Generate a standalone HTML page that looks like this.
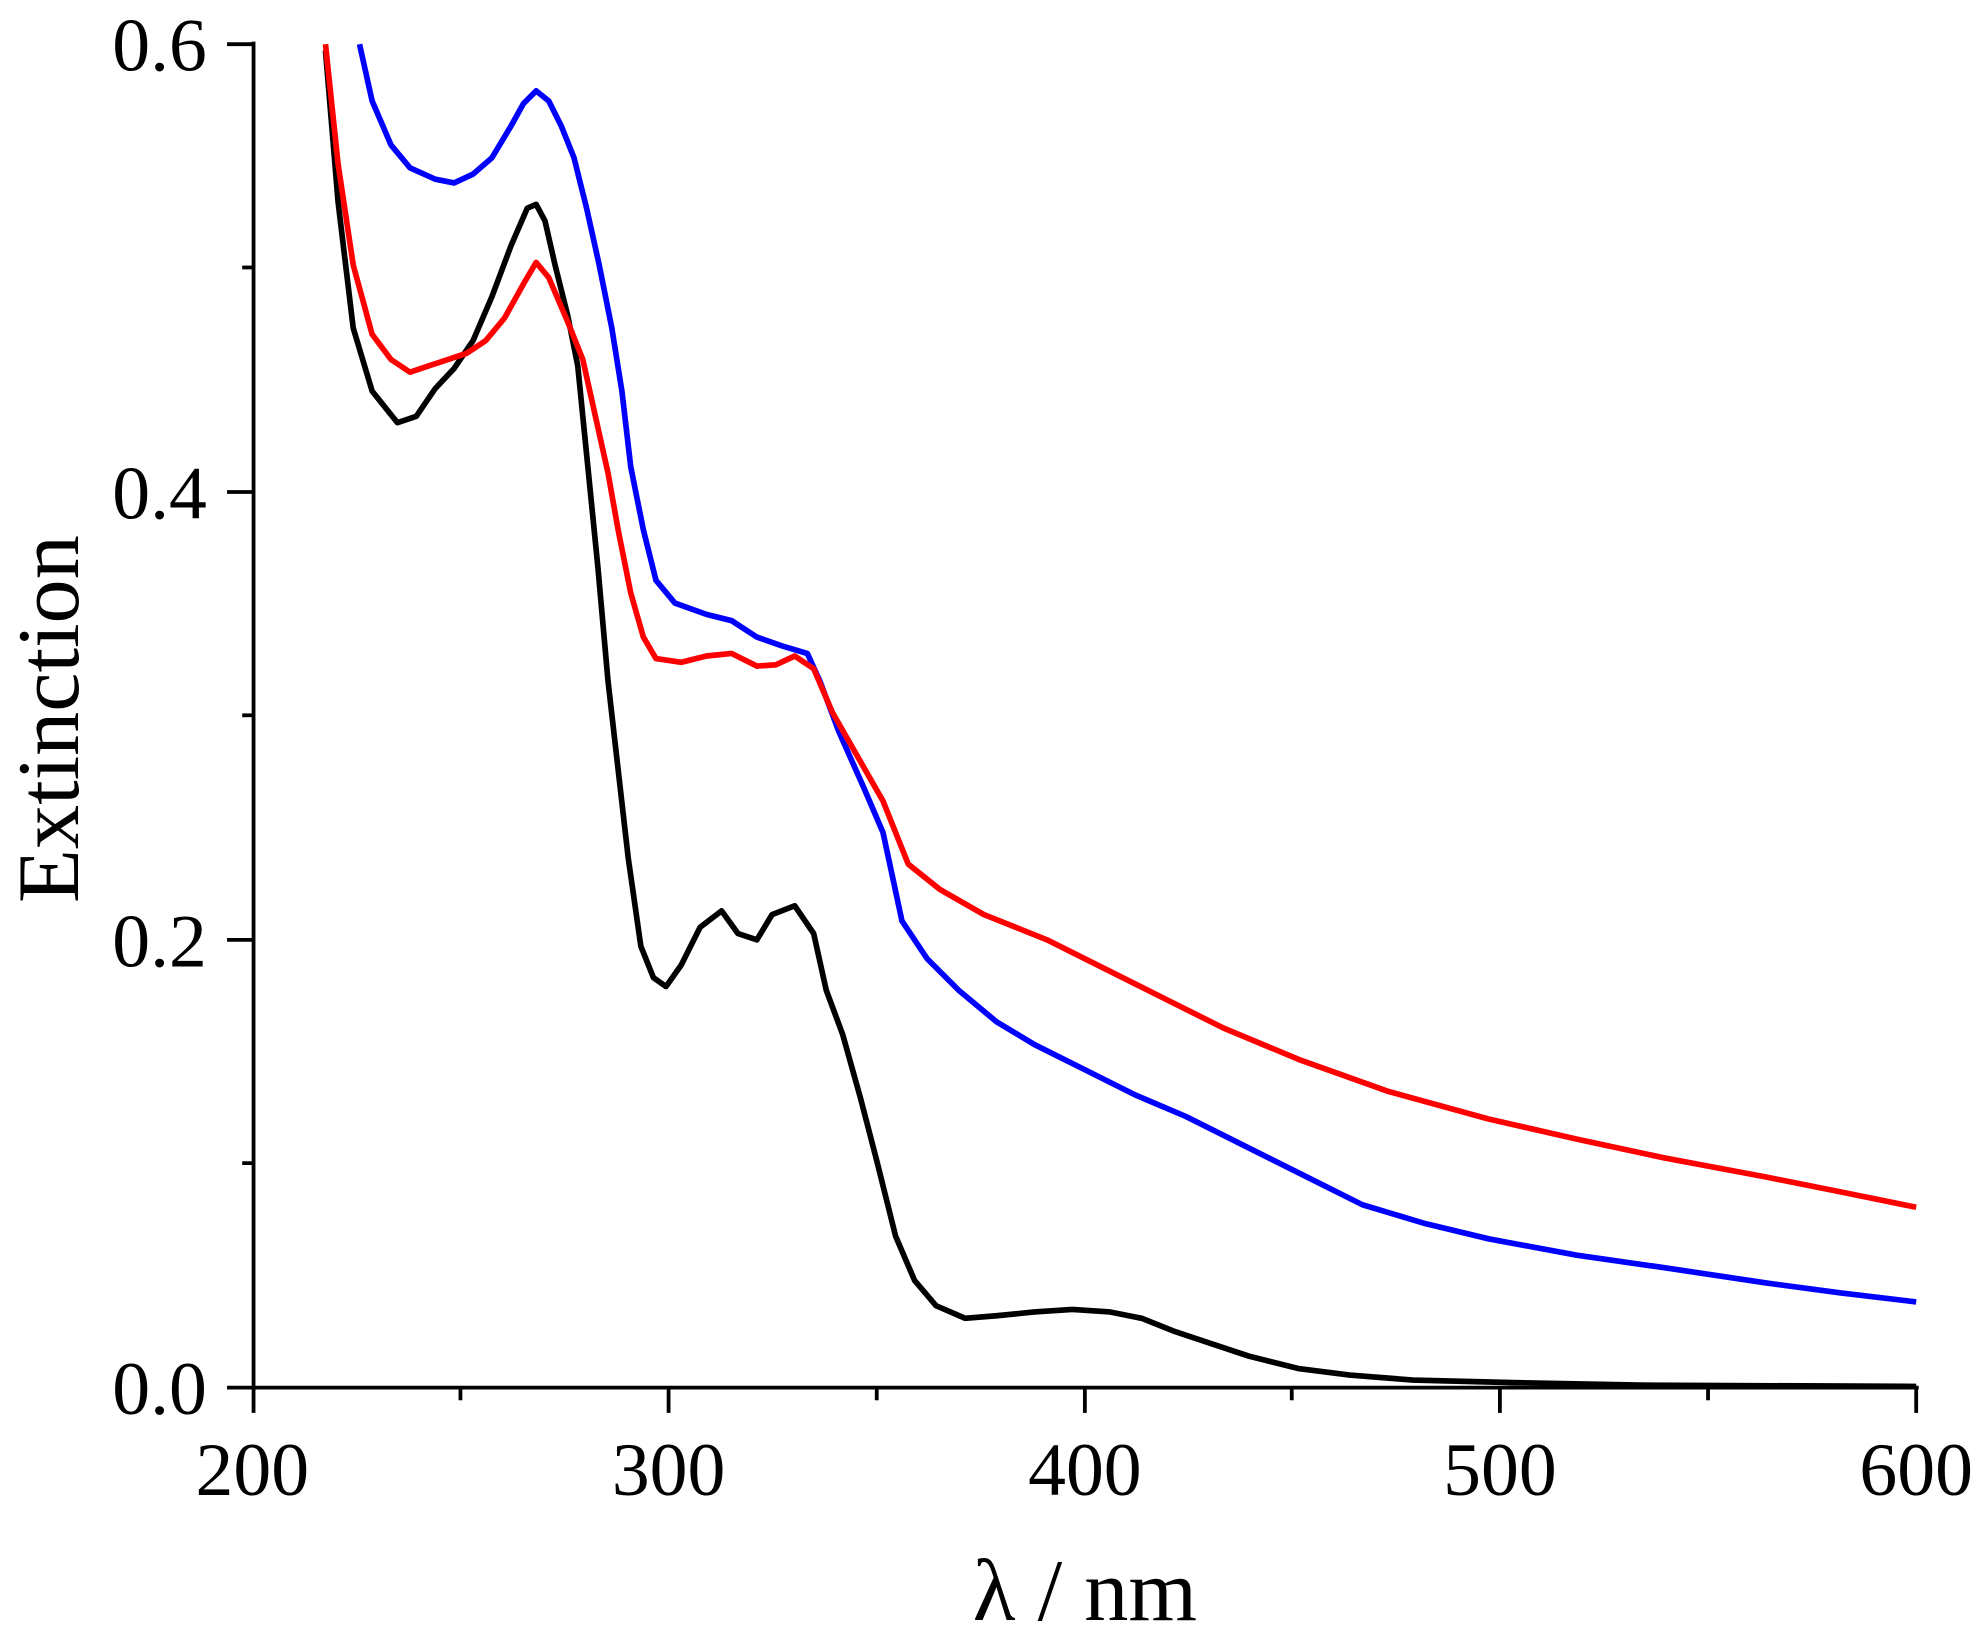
<!DOCTYPE html>
<html><head><style>html,body{margin:0;padding:0;background:#fff}svg{display:block}</style></head>
<body>
<svg width="1978" height="1640" viewBox="0 0 1568 1300" xmlns="http://www.w3.org/2000/svg" font-family="Liberation Serif, serif">
<g stroke="#000" stroke-width="3" fill="none">
<line x1="201" y1="33" x2="201" y2="1120"/>
<line x1="180" y1="1100" x2="1521" y2="1100"/>
<line x1="180" y1="35" x2="201" y2="35"/>
<line x1="180" y1="390" x2="201" y2="390"/>
<line x1="180" y1="745" x2="201" y2="745"/>
<line x1="192" y1="212" x2="201" y2="212"/>
<line x1="192" y1="567" x2="201" y2="567"/>
<line x1="192" y1="922" x2="201" y2="922"/>
<line x1="530" y1="1100" x2="530" y2="1120"/>
<line x1="860" y1="1100" x2="860" y2="1120"/>
<line x1="1189" y1="1100" x2="1189" y2="1120"/>
<line x1="1519" y1="1100" x2="1519" y2="1120"/>
<line x1="365" y1="1100" x2="365" y2="1110"/>
<line x1="695" y1="1100" x2="695" y2="1110"/>
<line x1="1024" y1="1100" x2="1024" y2="1110"/>
<line x1="1354" y1="1100" x2="1354" y2="1110"/>
</g>
<g font-size="60" fill="#000" text-anchor="end">
<text x="164" y="56">0.6</text>
<text x="164" y="411">0.4</text>
<text x="164" y="766">0.2</text>
<text x="164" y="1121">0.0</text>
</g>
<g font-size="60" fill="#000" text-anchor="middle">
<text x="200" y="1185">200</text>
<text x="530" y="1185">300</text>
<text x="860" y="1185">400</text>
<text x="1189" y="1185">500</text>
<text x="1519" y="1185">600</text>
</g>
<text x="860" y="1284" font-size="70" text-anchor="middle">λ / nm</text>
<text transform="translate(62,570) rotate(-90)" font-size="70" text-anchor="middle">Extinction</text>
<g fill="none" stroke-width="4.5" stroke-linejoin="round">
<polyline stroke="#000" points="258,40 268,160 280,260 295,310 315,335 330,330 345,308 360,292 375,270 390,235 405,195 418,165 425,162 432,175 440,210 450,250 458,290 466,370 474,450 482,540 490,610 498,680 508,750 518,775 528,782 540,765 555,735 572,722 585,740 600,745 612,725 630,718 645,740 655,785 668,820 682,870 695,920 710,980 725,1015 742,1035 765,1045 790,1043 820,1040 850,1038 880,1040 905,1045 930,1055 960,1065 990,1075 1030,1085 1070,1090 1120,1094 1200,1096 1300,1098 1519,1099"/>
<polyline stroke="#0000ff" points="285,35 295,80 310,115 325,133 345,142 360,145 375,138 390,125 405,100 415,82 425,72 435,80 445,100 455,125 465,165 475,210 485,260 493,310 500,370 510,420 520,460 535,478 560,487 580,492 600,505 620,512 640,518 650,540 665,580 685,625 700,660 715,730 735,760 760,785 790,810 820,828 860,848 900,868 940,885 980,905 1030,930 1080,955 1130,970 1180,982 1250,995 1320,1005 1400,1017 1460,1025 1519,1032"/>
<polyline stroke="#ff0000" points="258,35 268,130 280,210 295,265 310,285 325,295 340,290 355,285 370,280 385,270 400,252 415,225 425,208 435,220 450,255 462,285 472,330 482,375 490,420 500,470 510,505 520,522 540,525 560,520 580,518 600,528 615,527 630,520 645,530 660,565 680,600 700,635 720,685 745,705 780,725 830,745 870,765 920,790 970,815 1030,840 1100,865 1180,887 1250,903 1320,918 1400,933 1460,945 1519,957"/>
</g>
</svg>
</body></html>
